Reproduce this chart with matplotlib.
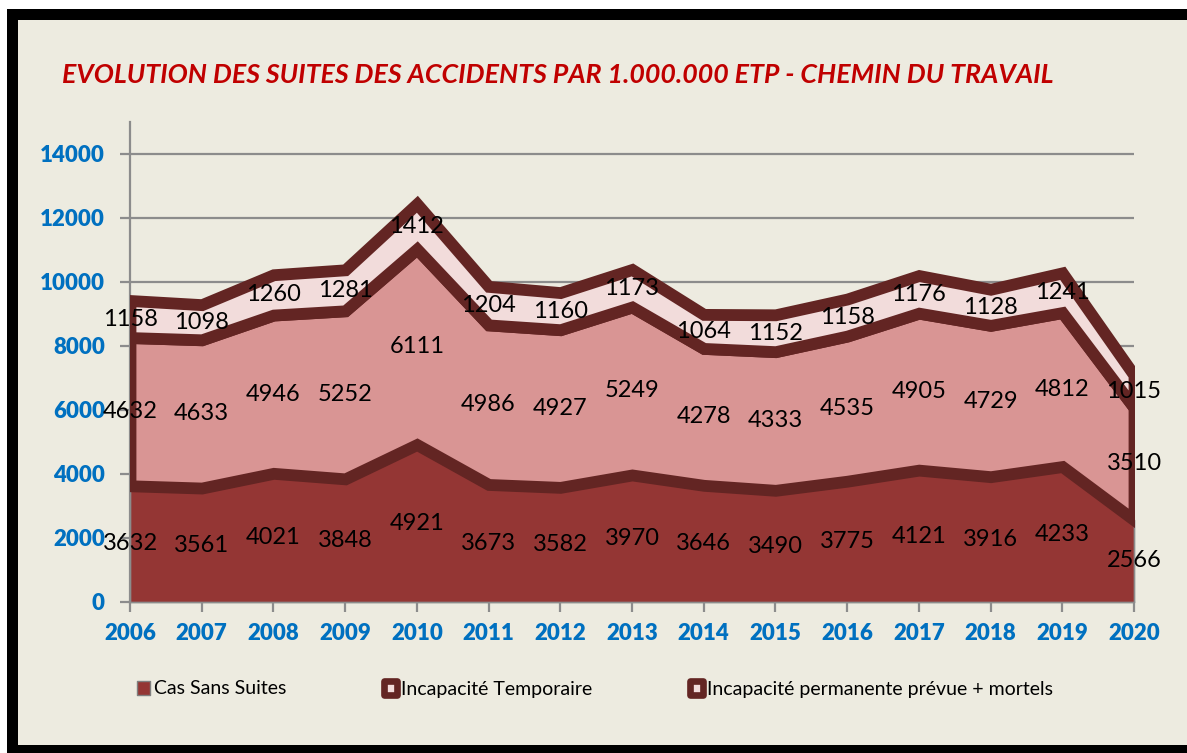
import matplotlib
matplotlib.use("Agg")
import matplotlib.pyplot as plt
from matplotlib.patches import Rectangle, Patch
from matplotlib.legend_handler import HandlerPatch
import numpy as np

years = [2006, 2007, 2008, 2009, 2010, 2011, 2012, 2013, 2014, 2015, 2016, 2017, 2018, 2019, 2020]
cas_sans_suites = [3632, 3561, 4021, 3848, 4921, 3673, 3582, 3970, 3646, 3490, 3775, 4121, 3916, 4233, 2566]
incap_temp = [4632, 4633, 4946, 5252, 6111, 4986, 4927, 5249, 4278, 4333, 4535, 4905, 4729, 4812, 3510]
incap_perm = [1158, 1098, 1260, 1281, 1412, 1204, 1160, 1173, 1064, 1152, 1158, 1176, 1128, 1241, 1015]
series_names = ["Cas Sans Suites", "Incapacité Temporaire", "Incapacité permanente prévue + mortels"]
yticks = [0, 2000, 4000, 6000, 8000, 10000, 12000, 14000]
title = "EVOLUTION DES SUITES DES ACCIDENTS PAR 1.000.000 ETP - CHEMIN DU TRAVAIL"

BG = "#EDEBE0"
C1 = "#943634"
C2 = "#D99594"
C3 = "#F2DCDB"
EDGE = "#632523"
BLUE = "#0070C0"
RED = "#C00000"
FONT = "Lato"

W, H = 1187, 753
fig = plt.figure(figsize=(W / 100, H / 100), dpi=100)
fig.patch.set_facecolor("white")
# outer black frame and beige chart area
fig.add_artist(Rectangle((7 / W, 0), 2, (H - 9) / H, transform=fig.transFigure,
                         facecolor="black", edgecolor="none", zorder=-10))
fig.add_artist(Rectangle((18 / W, 8 / H), 2, (H - 28) / H, transform=fig.transFigure,
                         facecolor=BG, edgecolor="none", zorder=-9))

ax = fig.add_axes([130 / W, 1 - 602 / H, (1134 - 130) / W, (602 - 122) / H])
ax.set_facecolor("none")

x = np.array(years)
s1 = np.array(cas_sans_suites)
s2 = np.array(incap_temp)
s3 = np.array(incap_perm)
b2 = s1
t2 = s1 + s2
t3 = t2 + s3

for v in yticks:
    ax.axhline(v, color="#8C8C8C", lw=1.6, zorder=0)

p1 = ax.fill_between(x, 0, s1, facecolor=C1, edgecolor="#8C8C8C", linewidth=1.2, zorder=1)
p1.set_clip_on(False)
p2 = ax.fill_between(x, b2, t2, facecolor=C2, edgecolor=EDGE, linewidth=8.5, zorder=2)
p2.set_joinstyle("miter")
p3 = ax.fill_between(x, t2, t3, facecolor=C3, edgecolor=EDGE, linewidth=8.5, zorder=3)
p3.set_joinstyle("miter")

ax.set_xlim(2006, 2020)
ax.set_ylim(0, 15000)
ax.set_yticks(yticks)
ax.set_xticks(years)
ax.set_xticklabels([str(y) for y in years])
for sp in ["top", "right"]:
    ax.spines[sp].set_visible(False)
for sp in ["left", "bottom"]:
    ax.spines[sp].set_color("#8C8C8C")
    ax.spines[sp].set_linewidth(1.6)
    ax.spines[sp].set_zorder(0.5)
ax.tick_params(axis="both", colors="#8C8C8C", width=1.6, length=7, direction="out")
ax.tick_params(axis="y", pad=11)
ax.tick_params(axis="x", pad=8)
for lab in ax.get_xticklabels() + ax.get_yticklabels():
    lab.set_color(BLUE)
    lab.set_fontweight("heavy")
    lab.set_fontsize(16)
    lab.set_family(FONT)

# data labels at centre of each band
for lower, vals in [(np.zeros_like(s1), s1), (b2, s2), (t2, s3)]:
    for xi, lo, v in zip(x, lower, vals):
        ax.text(xi, lo + v / 2, str(v), ha="center", va="center", fontsize=17,
                family=FONT, color="black", zorder=10, clip_on=False)

fig.text(62 / W, 1 - 75 / H, title, ha="left", va="center", fontsize=19.3,
         fontweight="bold", style="italic", color=RED, family=FONT)


class SquareHandler(HandlerPatch):
    def create_artists(self, legend, orig_handle, xdescent, ydescent, width, height, fontsize, trans):
        s = height * 1.0
        r = Rectangle((xdescent + width - s, ydescent + (height - s) / 2), s, s,
                      facecolor=orig_handle.get_facecolor(),
                      edgecolor=orig_handle.get_edgecolor(),
                      linewidth=orig_handle.get_linewidth(), transform=trans)
        r.set_joinstyle("round")
        return [r]


handles = [Patch(facecolor=C1, edgecolor="#7F7F7F", linewidth=1.0),
           Patch(facecolor=C3, edgecolor=EDGE, linewidth=4.8),
           Patch(facecolor=C3, edgecolor=EDGE, linewidth=4.8)]
leg = fig.legend(handles, series_names, loc="center", bbox_to_anchor=(593 / W, 1 - 689 / H),
                 ncol=3, frameon=False, prop={"family": FONT, "size": 14},
                 columnspacing=4.8, handlelength=0.9, handletextpad=0.2,
                 handler_map={Patch: SquareHandler()})

fig.savefig("out.png", dpi=100, facecolor=fig.get_facecolor())
